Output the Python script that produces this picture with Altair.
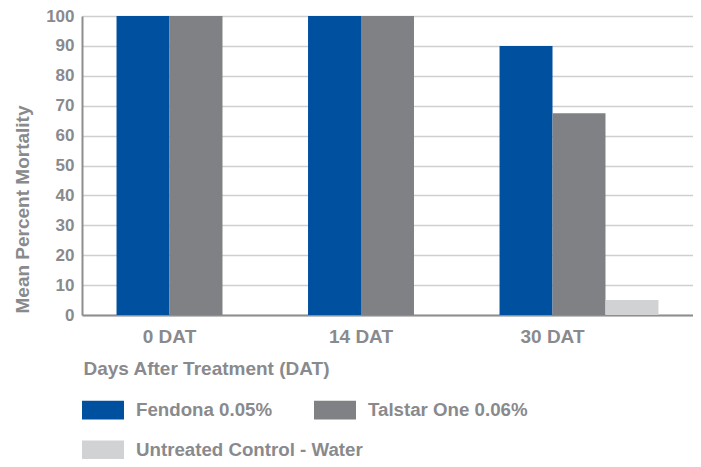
import altair as alt
import pandas as pd

days = ["0 DAT", "14 DAT", "30 DAT"]
treatments = ["Fendona 0.05%", "Talstar One 0.06%", "Untreated Control - Water"]
fendona = [100, 100, 90]
talstar = [100, 100, 67.5]
control = [0, 0, 5]
colors = ["#0050a0", "#808184", "#d1d2d4"]

rows = []
for series_name, vals in zip(treatments, [fendona, talstar, control]):
    for d, v in zip(days, vals):
        rows.append({"day": d, "treatment": series_name, "mortality": v})
df = pd.DataFrame(rows)

TEXT = "#898a8d"
FONT = "Liberation Sans"

x_enc = alt.X(
    "day:N",
    sort=days,
    scale=alt.Scale(paddingInner=0.17, paddingOuter=0.1803),
    axis=alt.Axis(
        title="Days After Treatment (DAT)",
        labelAngle=0,
        ticks=False,
        labelOffset=-26.5,
        labelPadding=12,
        labelFontSize=19,
        labelFont=FONT,
        labelFontWeight="bold",
        labelColor=TEXT,
        domainColor="#8e8e8e",
        domainWidth=2,
        titleAnchor="start",
        titleAlign="left",
        titleBaseline="alphabetic",
        titleX=1,
        titleY=59,
        titleFontSize=19,
        titleFont=FONT,
        titleFontWeight="bold",
        titleColor=TEXT,
    ),
)
xoff_enc = alt.XOffset("treatment:N", scale=alt.Scale(domain=treatments))
y_enc = alt.Y(
    "mortality:Q",
    scale=alt.Scale(domain=[0, 100], nice=False),
    axis=alt.Axis(
        title="Mean Percent Mortality",
        values=list(range(0, 101, 10)),
        ticks=False,
        labelPadding=8,
        labelFontSize=17,
        labelFont=FONT,
        labelFontWeight="bold",
        labelColor=TEXT,
        domainColor="#8e8e8e",
        domainWidth=2,
        gridColor="#cfcfcf",
        gridWidth=1.5,
        titleAngle=270,
        titleAlign="left",
        titleBaseline="middle",
        titleX=-60,
        titleY=297,
        titleFontSize=19,
        titleFont=FONT,
        titleFontWeight="bold",
        titleColor=TEXT,
    ),
)

legend_style = dict(
    title=None,
    orient="none",
    direction="horizontal",
    legendX=0,
    symbolType="M-1,-0.45H1V0.45H-1Z",
    symbolSize=1764,
    symbolStrokeWidth=0,
    labelFontSize=18.7,
    labelFont=FONT,
    labelFontWeight="bold",
    labelColor=TEXT,
    labelOffset=12,
    labelLimit=400,
    padding=0,
)

base = alt.Chart(df).mark_bar()

treated = base.transform_filter(
    alt.FieldOneOfPredicate(field="treatment", oneOf=treatments[:2])
).encode(
    x=x_enc,
    xOffset=xoff_enc,
    y=y_enc,
    color=alt.Color(
        "treatment:N",
        scale=alt.Scale(domain=treatments[:2], range=colors[:2]),
        legend=alt.Legend(legendY=373, columns=2, columnPadding=41, **legend_style),
    ),
)

untreated = base.transform_filter(
    alt.FieldOneOfPredicate(field="treatment", oneOf=treatments[2:])
).encode(
    x=x_enc,
    xOffset=xoff_enc,
    y=y_enc,
    color=alt.Color(
        "treatment:N",
        scale=alt.Scale(domain=treatments[2:], range=colors[2:]),
        legend=alt.Legend(legendY=413, **legend_style),
    ),
)

chart = alt.layer(treated, untreated).resolve_scale(
    color="independent"
).resolve_legend(
    color="independent"
).properties(
    width=611,
    height=299,
    padding={"left": 74, "top": 8, "right": 0, "bottom": 144},
    autosize=alt.AutoSizeParams(type="none"),
).configure_view(stroke=None)

chart.save("out.html", embed_options={"renderer": "svg", "actions": False})
